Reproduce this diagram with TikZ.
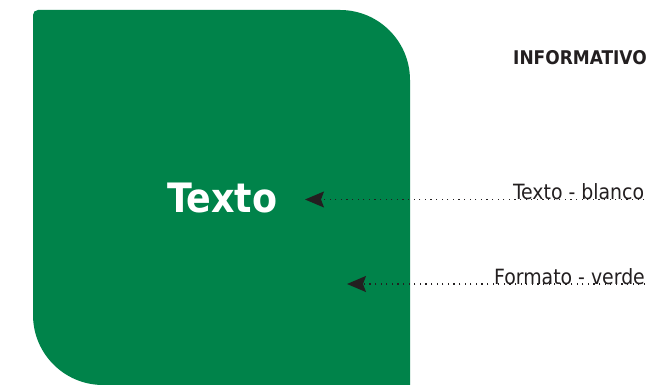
\documentclass[tikz,border=0pt]{standalone}
\usepackage{fontspec}
\setmainfont{DejaVu Sans Condensed}
\usetikzlibrary{arrows.meta}

\definecolor{verde}{RGB}{0,131,74}
\definecolor{tinta}{RGB}{35,31,32}

\tikzset{
    etiqueta/.style = {anchor = base west, inner sep = 0, text = tinta, font = \fontsize{21}{25}\selectfont},
    guia/.style = {tinta, line width = 1.2pt, dash pattern = on 1.2pt off 4.4pt, -{Stealth[length = 19pt, width = 16pt, inset = 3pt]}}
}

\begin{document}
\begin{tikzpicture}[x = 1pt, y = 1pt]

    \useasboundingbox (0, 0) rectangle (654, 385);

    % tarjeta verde
    \fill[verde] (33, 70) -- (33, 370) arc (180:90:5) -- (340, 375) arc (90:0:70)
        -- (410, 0) -- (103, 0) arc (270:180:70) -- cycle;

    \node[anchor = base west, inner sep = 0, text = white, font = \bfseries\fontsize{40.5}{46}\selectfont] (texto) at (167, 172) {Texto};

    \node[etiqueta, font = \bfseries\fontsize{18.9}{22}\selectfont] (info) at (513, 320.5) {INFORMATIVO};
    \node[etiqueta] (blanco) at (513, 185) {Texto - blanco};
    \node[etiqueta] (formato) at (494, 100.5) {Formato - verde};

    \coordinate (puntaA) at (305, 185.5);
    \coordinate (puntaB) at (347, 101);

    \draw[guia] (blanco.base east |- puntaA) -- (puntaA);
    \draw[guia] (formato.base east |- puntaB) -- (puntaB);

\end{tikzpicture}
\end{document}
